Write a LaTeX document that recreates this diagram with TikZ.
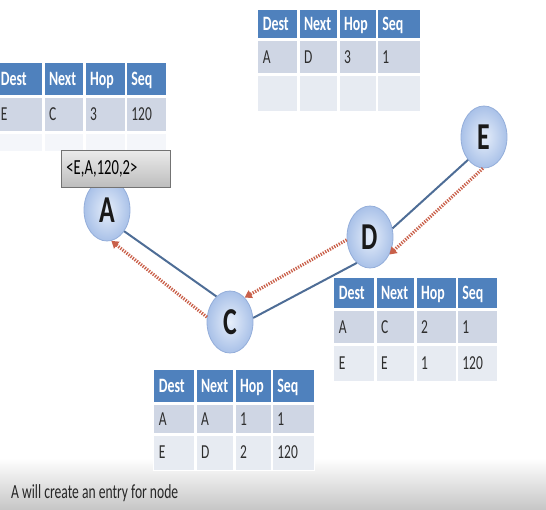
\documentclass[tikz,border=0pt]{standalone}
\usepackage{fontspec}
\setmainfont{Carlito}[FakeStretch=0.68]
\usetikzlibrary{shapes.geometric,arrows.meta,matrix}

\definecolor{hdr}{HTML}{4F81BD}
\definecolor{rowa}{HTML}{CFD6E4}
\definecolor{rowb}{HTML}{E7EBF2}
\definecolor{rowc}{HTML}{F4F6FA}
\definecolor{txt}{HTML}{2E2E2E}
\definecolor{link}{HTML}{4E6D96}
\definecolor{reply}{HTML}{C9604A}
\definecolor{ballin}{HTML}{E6EEFA}
\definecolor{ballout}{HTML}{A9C1E8}
\definecolor{ballrim}{HTML}{94AEDA}

\newcommand\hdrfont{\fontsize{20.4}{22}\selectfont\bfseries}
\newcommand\cellfont{\fontsize{19.8}{22}\selectfont}

\begin{document}
\begin{tikzpicture}[x=1pt,y=-1pt,
  station/.style={ellipse, minimum width=46pt, minimum height=62pt, inner sep=0pt,
    draw=ballrim, line width=0.8pt, inner color=ballin, outer color=ballout,
    font=\fontsize{38}{40}\selectfont\bfseries, text=black!90},
  linkline/.style={draw=link, line width=2pt},
  replyline/.style={draw=reply, line width=3.2pt, dash pattern=on 1.3pt off 1.3pt,
    -{Triangle[length=7pt,width=8.5pt]}},
  cell/.style={draw=white, line width=1.2pt, inner xsep=5pt, inner ysep=0pt,
    outer sep=0pt, text height=13pt, text depth=1pt, align=left},
  head/.style={fill=hdr, text=white, font=\hdrfont},
  bodya/.style={fill=rowa, text=txt, font=\cellfont},
  bodyb/.style={fill=rowb, text=txt, font=\cellfont},
  bodyc/.style={fill=rowc, text=txt, font=\cellfont},
  rtable/.style n args={4}{matrix of nodes, nodes in empty cells, anchor=north west,
    inner sep=0pt, column sep=0pt, row sep=0pt, nodes={cell},
    column 1/.style={nodes={text width=#1pt}},
    column 2/.style={nodes={text width=#2pt}},
    column 3/.style={nodes={text width=#3pt}},
    column 4/.style={nodes={text width=#4pt}}},
  tagbox/.style={anchor=north west, minimum width=109pt, minimum height=37pt,
    text width=99pt, inner xsep=5pt, align=left, top color=black!8,
    bottom color=black!26, draw=black!55, line width=0.8pt,
    font=\fontsize{21.5}{22}\selectfont, text=black}
]
\useasboundingbox (0,0) rectangle (546,509);

% caption band along the bottom
\fill[top color=white, bottom color=black!22] (0,458) rectangle (546,509);
\node[anchor=west, inner sep=0pt, font=\fontsize{20}{22}\selectfont, text=black!85]
  (caption) at (11,493) {A will create an entry for node};

% routing tables
\matrix (tA) [rtable={37}{30}{30}{30},
  row 1/.style={nodes={head, minimum height=33pt}},
  row 2/.style={nodes={bodya, minimum height=35pt}},
  row 3/.style={nodes={bodyc, minimum height=18pt}}] at (-5,62)
{ Dest & Next & Hop & Seq \\ E & C & 3 & 120 \\ & & & \\ };

\matrix (tE) [rtable={30}{29}{27}{33},
  row 1/.style={nodes={head, minimum height=29pt}},
  row 2/.style={nodes={bodya, minimum height=34pt}},
  row 3/.style={nodes={bodyb, minimum height=36pt}}] at (257,9)
{ Dest & Next & Hop & Seq \\ A & D & 3 & 1 \\ & & & \\ };

\matrix (tD) [rtable={31}{29}{30}{30},
  row 1/.style={nodes={head, minimum height=31pt}},
  row 2/.style={nodes={bodya, minimum height=34pt}},
  row 3/.style={nodes={bodyb, minimum height=36pt}}] at (333,277)
{ Dest & Next & Hop & Seq \\ A & C & 2 & 1 \\ E & E & 1 & 120 \\ };

\matrix (tC) [rtable={31}{28}{26}{32},
  row 1/.style={nodes={head, minimum height=33pt}},
  row 2/.style={nodes={bodya, minimum height=30pt}},
  row 3/.style={nodes={bodyb, minimum height=35pt}}] at (153,369)
{ Dest & Next & Hop & Seq \\ A & A & 1 & 1 \\ E & D & 2 & 120 \\ };

% stations
\node[station] (A) at (107,210) {A};
\node[station] (C) at (230,322) {C};
\node[station] (D) at (370,237) {D};
\node[station] (E) at (484,137) {E};

% links
\draw[linkline] (A.-51) -- (C.118);
\draw[linkline] (C.10) -- (D.-117);
\draw[linkline] (D.21) -- (E.-125);

% reply path back to A
\draw[replyline] (E.-92) -- (D.-42);
\draw[replyline] (D.-173) -- (C.59);
\draw[replyline] (C.168) -- (A.-82);

% packet carried to A
\node[tagbox] (tag) at (61,150) {<E,A,120,2>};
\end{tikzpicture}
\end{document}
